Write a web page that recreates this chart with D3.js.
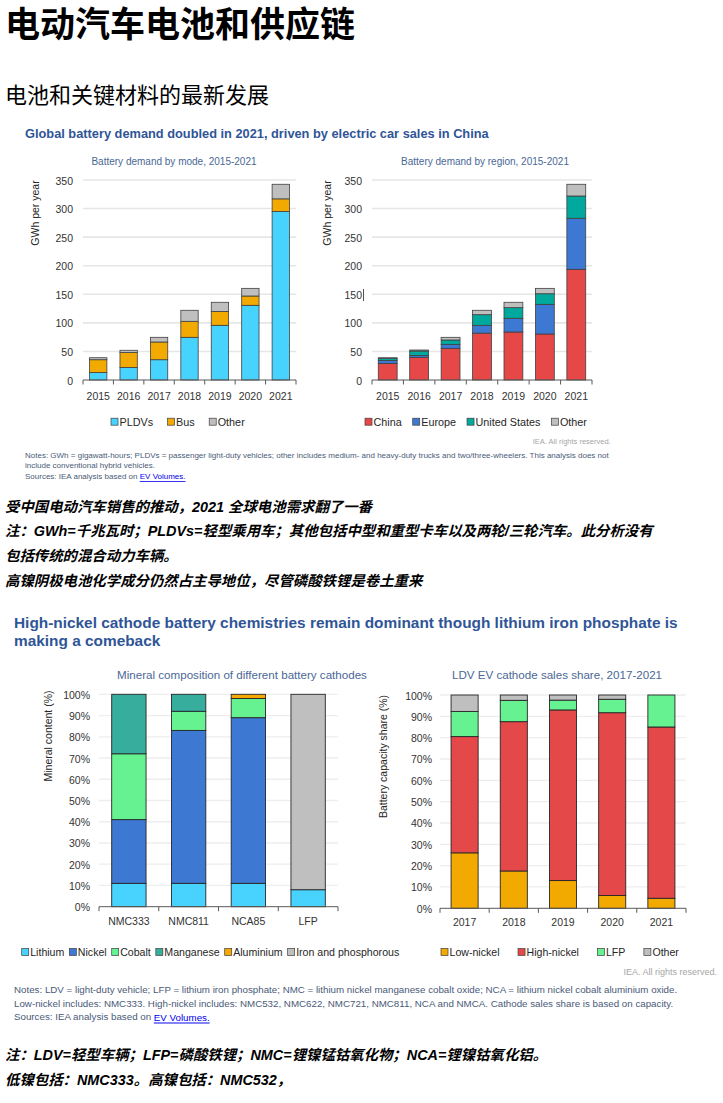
<!DOCTYPE html>
<html><head><meta charset="utf-8">
<script src="https://cdn.jsdelivr.net/npm/d3@7"></script>
<style>
body{margin:0;background:#fff;}
svg{display:block;}
</style></head><body>
<svg id="c" width="723" height="1103"></svg>
<script>
// ---------- DATA ----------
const years1 = ["2015","2016","2017","2018","2019","2020","2021"];
const modeKeys = ["PLDVs","Bus","Other"];
const modePLDV  = [13, 22, 35.5, 74.7, 95.7, 130.7, 295];
const modeBus   = [22.5, 26, 31, 28, 24.3, 16.3, 22];
const modeOther = [3.5, 4, 8.2, 19.3, 16, 13.4, 25.5];

const regionKeys = ["China","Europe","United States","Other"];
const regChina  = [29, 39.7, 55.4, 82, 84, 80.5, 193.7];
const regEurope = [5, 3.3, 7, 13.7, 24, 51.9, 89.3];
const regUS     = [3.5, 7.7, 7.6, 18.6, 18.6, 18.6, 39];
const regOther  = [1.5, 1.8, 4.7, 7.7, 9.4, 9.4, 20.5];

const gwhTicks = [0,50,100,150,200,250,300,350];

const cathodes = ["NMC333","NMC811","NCA85","LFP"];
const mineralKeys = ["Lithium","Nickel","Cobalt","Manganese","Aluminium","Iron and phosphorous"];
const minLithium   = [11, 11, 11, 8];
const minNickel    = [30, 72, 78, 0];
const minCobalt    = [31, 9, 9, 0];
const minManganese = [28, 8, 0, 0];
const minAluminium = [0, 0, 2, 0];
const minIronPhos  = [0, 0, 0, 92];

const years2 = ["2017","2018","2019","2020","2021"];
const shareKeys = ["Low-nickel","High-nickel","LFP","Other"];
const shLow   = [26, 17.5, 13, 6, 4.7];
const shHigh  = [54.5, 70, 80, 85.7, 80.3];
const shLFP   = [11.8, 10, 4.6, 6.3, 15];
const shOther = [7.7, 2.5, 2.4, 2, 0];

const pctTicks = [0,10,20,30,40,50,60,70,80,90,100];

// ---------- HELPERS ----------
const svg = d3.select("#c");
const LAT = "'Liberation Sans', Arial, sans-serif";
const CJK = "'Noto Sans CJK SC', sans-serif";
const MIX = "'Liberation Sans', 'Noto Sans CJK SC', sans-serif";

function txt(x, y, s, o = {}) {
  const t = svg.append("text").attr("x", x).attr("y", y)
    .attr("dominant-baseline", "central")
    .style("font-family", o.ff || LAT).style("font-size", o.fs + "px")
    .style("fill", o.fill || "#000");
  if (o.fw) t.style("font-weight", o.fw);
  if (o.fst) t.style("font-style", o.fst);
  if (o.anchor) t.attr("text-anchor", o.anchor);
  t.text(s);
  return t;
}

function stackChart(cfg) {
  const g = svg.append("g");
  const x = d3.scaleBand().domain(cfg.cats).range([cfg.left, cfg.right])
    .paddingInner(cfg.pad).paddingOuter(cfg.pad / 2);
  const y = d3.scaleLinear().domain([0, cfg.max]).range([cfg.bottom, cfg.top]);

  g.append("g").selectAll("line").data(cfg.ticks.filter(t => t > 0)).join("line")
    .attr("x1", cfg.left).attr("x2", cfg.right)
    .attr("y1", d => y(d)).attr("y2", d => y(d))
    .attr("stroke", cfg.grid).attr("stroke-width", cfg.gridW);

  const ya = d3.axisLeft(y).tickValues(cfg.ticks).tickFormat(cfg.fmt).tickSize(0).tickPadding(0);
  const yg = g.append("g").attr("transform", `translate(${cfg.yLabRight},0)`).call(ya);
  yg.select(".domain").remove();
  yg.selectAll("text").attr("dy", null).attr("dominant-baseline", "central")
    .style("font-family", LAT).style("font-size", cfg.tickFs + "px").style("fill", "#333");

  const table = cfg.cats.map((c, i) => {
    const o = { cat: c };
    cfg.keys.forEach((k, j) => o[k] = cfg.values[j][i]);
    return o;
  });
  const stack = d3.stack().keys(cfg.keys)(table);
  g.append("g").selectAll("g").data(stack).join("g").attr("fill", (d, i) => cfg.colors[i])
    .selectAll("rect").data(d => d.filter(e => e[1] - e[0] > 0)).join("rect")
    .attr("x", d => x(d.data.cat)).attr("width", x.bandwidth())
    .attr("y", d => y(d[1])).attr("height", d => y(d[0]) - y(d[1]))
    .attr("stroke", cfg.stroke).attr("stroke-width", cfg.strokeW);

  // baseline + boundary ticks
  g.append("line").attr("x1", cfg.left).attr("x2", cfg.right)
    .attr("y1", cfg.bottom).attr("y2", cfg.bottom).attr("stroke", "#595959").attr("stroke-width", 1);
  g.append("g").selectAll("line").data(d3.range(cfg.cats.length + 1)).join("line")
    .attr("x1", i => cfg.left + i * x.step()).attr("x2", i => cfg.left + i * x.step())
    .attr("y1", cfg.bottom).attr("y2", cfg.bottom + 4.5)
    .attr("stroke", "#595959").attr("stroke-width", 1);

  const xa = d3.axisBottom(x).tickSize(0).tickPadding(0);
  const xg = g.append("g").attr("transform", `translate(0,${cfg.bottom})`).call(xa);
  xg.select(".domain").remove();
  xg.selectAll("text").attr("dy", null).attr("y", cfg.xLabOff).attr("dominant-baseline", "central")
    .style("font-family", LAT).style("font-size", cfg.tickFs + "px").style("fill", "#333");

  // y label
  svg.append("text").attr("transform", `translate(${cfg.yTitleX},${cfg.yTitleY}) rotate(-90)`)
    .attr("text-anchor", "middle").attr("dominant-baseline", "central")
    .style("font-family", LAT).style("font-size", cfg.yTitleFs + "px").style("fill", "#262626")
    .text(cfg.yTitle);
  return { x, y };
}

function legend(x0, y, items, colors, gap, fs) {
  let x = x0;
  items.forEach((it, i) => {
    svg.append("rect").attr("x", x).attr("y", y - 3.5).attr("width", 7).attr("height", 7)
      .attr("fill", colors[i]).attr("stroke", "#404040").attr("stroke-width", 0.7);
    const t = txt(x + 8.5, y, it, { fs, fill: "#262626" });
    x += 8.5 + t.node().getComputedTextLength() + gap;
  });
}

// ---------- PAGE TEXT ----------
txt(5, 21, "电动汽车电池和供应链", { ff: CJK, fs: 35, fw: "bold" });
txt(5, 93, "电池和关键材料的最新发展", { ff: CJK, fs: 22 });

const TITLE = "#2F5597", SUB = "#4A6896", NOTE = "#4A5A78";

// ---------- CHART 1 ----------
txt(25, 133, "Global battery demand doubled in 2021, driven by electric car sales in China", { fs: 12.8, fw: "bold", fill: TITLE });
txt(174, 161.7, "Battery demand by mode, 2015-2021", { fs: 10, fill: SUB, anchor: "middle" });
txt(485, 161.7, "Battery demand by region, 2015-2021", { fs: 10, fill: SUB, anchor: "middle" });

const c1colors = ["#48D2FE", "#F2A900", "#BFBFBF"];
stackChart({
  cats: years1, keys: modeKeys, values: [modePLDV, modeBus, modeOther], colors: c1colors,
  left: 83, right: 296, top: 180, bottom: 380, max: 350, ticks: gwhTicks, fmt: d3.format("d"),
  pad: 0.43, grid: "#e6e6e6", gridW: 1.6, stroke: "#404040", strokeW: 0.8,
  yLabRight: 73, tickFs: 10.5, xLabOff: 15.5,
  yTitle: "GWh per year", yTitleX: 35, yTitleY: 213, yTitleFs: 10.5
});
const c2colors = ["#E64848", "#3D78D3", "#00A99D", "#BFBFBF"];
stackChart({
  cats: years1, keys: regionKeys, values: [regChina, regEurope, regUS, regOther], colors: c2colors,
  left: 372, right: 592, top: 180, bottom: 380, max: 350, ticks: gwhTicks, fmt: d3.format("d"),
  pad: 0.4, grid: "#e6e6e6", gridW: 1.6, stroke: "#404040", strokeW: 0.8,
  yLabRight: 362, tickFs: 10.5, xLabOff: 15.5,
  yTitle: "GWh per year", yTitleX: 327, yTitleY: 213, yTitleFs: 10.5
});
// small cursor artifact next to "150"
svg.append("line").attr("x1", 363.5).attr("x2", 363.5).attr("y1", 289).attr("y2", 301)
  .attr("stroke", "#222").attr("stroke-width", 0.8);

legend(111, 421.7, modeKeys, c1colors, 14.5, 10.8);
legend(365, 421.7, regionKeys, c2colors, 11, 10.8);

txt(610.7, 441.7, "IEA. All rights reserved.", { fs: 7.5, fill: "#a6a6a6", anchor: "end" });
txt(25, 455, "Notes: GWh = gigawatt-hours; PLDVs = passenger light-duty vehicles; other includes medium- and heavy-duty trucks and two/three-wheelers. This analysis does not", { fs: 8, fill: NOTE });
txt(25, 465.5, "include conventional hybrid vehicles.", { fs: 8, fill: NOTE });
{
  const t = txt(25, 476, "Sources: IEA analysis based on ", { fs: 8, fill: NOTE });
  t.append("tspan").style("fill", "#0000EE").style("text-decoration", "underline").text("EV Volumes.");
}

// ---------- CHINESE NOTES ----------
const cjkLine = { ff: MIX, fs: 14.4, fw: "bold", fst: "italic" };
txt(5, 507, "受中国电动汽车销售的推动，2021 全球电池需求翻了一番", cjkLine);
txt(5, 531, "注：GWh=千兆瓦时；PLDVs=轻型乘用车；其他包括中型和重型卡车以及两轮/三轮汽车。此分析没有", cjkLine);
txt(5, 556, "包括传统的混合动力车辆。", cjkLine);
txt(5, 581, "高镍阴极电池化学成分仍然占主导地位，尽管磷酸铁锂是卷土重来", cjkLine);

// ---------- CHART 2 ----------
txt(14, 622.5, "High-nickel cathode battery chemistries remain dominant though lithium iron phosphate is", { fs: 15.4, fw: "bold", fill: TITLE });
txt(14, 640.7, "making a comeback", { fs: 15.4, fw: "bold", fill: TITLE });
txt(242, 674, "Mineral composition of different battery cathodes", { fs: 11.6, fill: SUB, anchor: "middle" });
txt(557, 674, "LDV EV cathode sales share, 2017-2021", { fs: 11.6, fill: SUB, anchor: "middle" });

const c3colors = ["#48D2FE", "#3D78D3", "#66F291", "#37AD9E", "#F5A800", "#BFBFBF"];
stackChart({
  cats: cathodes, keys: mineralKeys,
  values: [minLithium, minNickel, minCobalt, minManganese, minAluminium, minIronPhos], colors: c3colors,
  left: 99, right: 338, top: 694.3, bottom: 906.7, max: 100, ticks: pctTicks, fmt: d => d + "%",
  pad: 0.425, grid: "#eeeeee", gridW: 1.3, stroke: "#262626", strokeW: 0.9,
  yLabRight: 90, tickFs: 10.5, xLabOff: 14,
  yTitle: "Mineral content (%)", yTitleX: 48, yTitleY: 736, yTitleFs: 10.5
});
const c4colors = ["#F2A900", "#E54848", "#66F291", "#BFBFBF"];
stackChart({
  cats: years2, keys: shareKeys, values: [shLow, shHigh, shLFP, shOther], colors: c4colors,
  left: 440, right: 686, top: 695, bottom: 908.3, max: 100, ticks: pctTicks, fmt: d => d + "%",
  pad: 0.45, grid: "#eeeeee", gridW: 1.3, stroke: "#262626", strokeW: 0.9,
  yLabRight: 432, tickFs: 10.5, xLabOff: 13.5,
  yTitle: "Battery capacity share (%)", yTitleX: 383, yTitleY: 756.5, yTitleFs: 10.5
});

legend(21.7, 952, mineralKeys, c3colors, 5, 10.6);
legend(441, 952, shareKeys, c4colors, 18.5, 10.6);

txt(717, 972, "IEA. All rights reserved.", { fs: 9, fill: "#a6a6a6", anchor: "end" });
txt(14, 989, "Notes: LDV = light-duty vehicle; LFP = lithium iron phosphate; NMC = lithium nickel manganese cobalt oxide; NCA = lithium nickel cobalt aluminium oxide.", { fs: 9.75, fill: NOTE });
txt(14, 1003, "Low-nickel includes: NMC333. High-nickel includes: NMC532, NMC622, NMC721, NMC811, NCA and NMCA. Cathode sales share is based on capacity.", { fs: 9.75, fill: NOTE });
{
  const t = txt(14, 1016.5, "Sources: IEA analysis based on ", { fs: 9.75, fill: NOTE });
  t.append("tspan").style("fill", "#0000EE").style("text-decoration", "underline").text("EV Volumes.");
}

txt(5, 1055, "注：LDV=轻型车辆；LFP=磷酸铁锂；NMC=锂镍锰钴氧化物；NCA=锂镍钴氧化铝。", cjkLine);
txt(5, 1080, "低镍包括：NMC333。高镍包括：NMC532，", cjkLine);
</script>
</body></html>
